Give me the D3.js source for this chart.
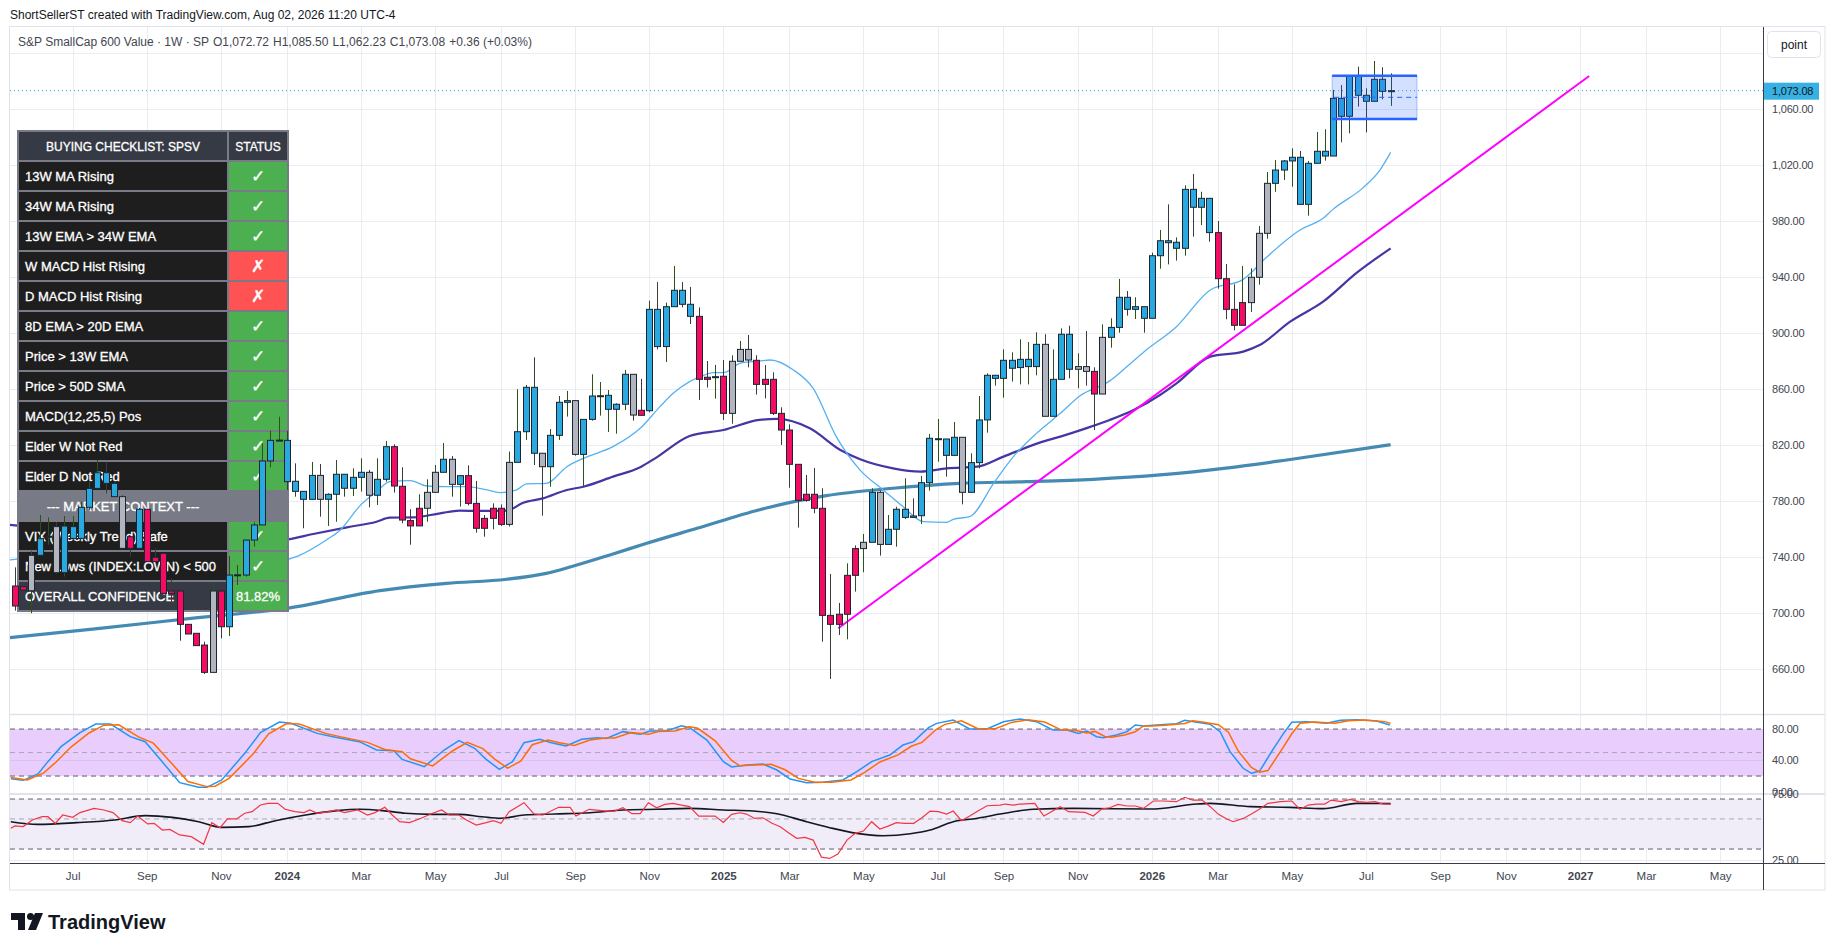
<!DOCTYPE html>
<html>
<head>
<meta charset="utf-8">
<script src="https://cdn.jsdelivr.net/npm/d3@7"></script>
<style>
  body { margin: 0; background: #ffffff; }
  svg text { font-family: "Liberation Sans", Arial, sans-serif; }
</style>
</head>
<body>
<div class="chart"></div>
<script>
// ---- data ----
// weeks are counted from the bar of 2023-07-03 (week 0); candles start at week -7
var firstCandleWeek = -7;
// [open, high, low, close]
var ohlc = [
  [719.3,732.6,701.7,705.0],[718.8,722.0,714.0,716.4],[715.9,744.1,699.8,741.2],[741.2,770.0,741.2,753.1],
  [754.5,768.3,748.6,754.8],[761.7,765.0,728.0,728.8],[728.8,769.3,726.0,762.1],[753.3,769.3,753.3,761.7],
  [753.3,779.5,753.3,775.5],[775.5,793.8,773.6,789.0],[789.0,809.3,789.0,800.2],[800.2,808.1,785.5,792.6],
  [792.6,793.8,783.1,783.1],[783.1,784.0,745.5,746.2],[754.5,754.5,740.2,746.2],[746.2,775.0,745.5,774.1],
  [774.1,774.1,736.7,736.7],[739.8,746.2,736.7,736.7],[742.6,742.6,714.0,714.0],[715.7,724.8,703.3,714.0],
  [715.7,715.7,680.2,691.9],[691.9,691.9,685.0,685.0],[685.5,685.5,676.7,676.7],[677.1,679.5,656.4,657.6],
  [657.6,721.7,657.6,715.7],[715.7,715.7,681.9,690.2],[690.2,740.7,683.6,727.1],[727.1,734.3,720.0,727.3],
  [727.1,752.1,726.0,752.1],[752.1,764.8,747.4,762.9],[762.9,821.2,762.9,808.6],[808.6,830.2,804.0,823.3],
  [823.3,840.2,823.3,823.5],[823.3,830.2,787.9,793.8],[794.1,806.9,783.1,786.9],[786.9,786.9,760.5,781.2],
  [781.2,807.9,781.2,798.3],[798.3,806.4,768.8,781.2],[781.2,785.5,762.2,784.8],[784.8,809.3,765.2,799.1],
  [799.1,799.1,783.1,789.1],[789.1,803.3,783.6,796.9],[796.9,810.5,786.7,800.5],[800.5,802.2,775.5,784.1],
  [784.1,810.5,777.2,795.5],[795.5,822.9,793.8,818.8],[818.8,820.5,786.0,790.7],[790.5,804.1,764.1,766.4],
  [766.0,774.1,748.8,762.2],[762.2,784.8,762.2,774.8],[774.8,795.5,765.2,786.2],[786.2,805.7,786.2,800.5],
  [800.5,821.4,800.5,809.8],[809.8,812.1,783.1,791.9],[791.9,798.1,776.0,798.1],[798.1,805.5,776.9,778.3],
  [778.3,794.3,757.4,760.5],[767.6,770.0,754.5,760.5],[774.8,778.3,759.8,767.6],[774.8,777.6,762.2,763.3],
  [763.3,815.3,761.7,807.6],[807.6,859.8,807.6,829.5],[829.5,862.9,823.6,861.2],[861.2,882.6,805.7,814.1],
  [814.1,814.1,769.5,804.5],[804.5,831.4,790.2,826.9],[826.9,855.0,823.6,850.5],[850.5,858.6,840.3,851.7],
  [851.7,851.7,812.4,813.3],[813.3,838.3,790.7,838.3],[838.3,870.5,837.4,855.0],[855.0,865.0,841.0,855.2],
  [845.5,859.3,829.3,855.5],[845.5,849.8,828.1,849.1],[849.1,873.6,845.0,870.5],[870.5,870.5,837.4,841.4],
  [844.8,867.2,841.2,841.2],[844.5,923.1,843.3,916.9],[916.9,936.4,888.3,890.3],[890.3,921.7,879.3,918.8],
  [918.8,947.9,918.8,930.5],[930.5,936.4,918.3,920.5],[920.5,932.9,906.4,911.9],[911.9,918.3,852.2,866.9],
  [868.4,880.0,861.0,866.9],[868.6,877.2,853.1,868.8],[869.1,880.7,837.9,842.6],[842.6,884.1,835.2,879.8],
  [879.8,894.3,879.8,888.3],[888.3,898.6,875.5,880.7],[880.5,884.1,856.0,863.3],[866.9,877.1,853.3,863.3],
  [866.9,871.9,841.4,842.6],[842.6,846.9,820.0,830.7],[830.7,834.8,789.5,806.2],[806.2,806.2,761.0,780.5],
  [784.8,798.6,779.5,780.5],[784.8,803.6,771.2,774.8],[774.8,789.1,679.5,698.3],[698.3,727.9,652.9,691.9],
  [699.1,707.2,684.3,691.9],[699.1,735.5,681.2,726.9],[726.9,748.3,715.3,746.0],[746.0,756.4,729.1,750.5],
  [750.5,789.1,750.5,786.2],[786.2,787.4,741.0,749.0],[749.0,770.0,749.0,759.8],[759.8,775.9,747.4,774.1],
  [768.3,796.2,767.1,774.1],[769.3,781.9,768.1,768.3],[769.5,797.9,763.6,793.1],[793.1,827.9,787.4,824.8],
  [824.3,838.6,808.1,824.5],[824.3,824.3,797.4,812.6],[812.6,836.4,812.6,825.5],[825.5,825.5,777.6,786.2],
  [786.2,814.1,786.2,807.4],[807.4,855.0,803.3,837.9],[837.9,871.2,828.8,869.8],[867.6,869.8,862.4,869.8],
  [867.6,888.3,853.8,880.5],[874.8,886.2,865.3,880.5],[875.3,895.5,863.3,881.2],[876.0,893.6,863.3,881.2],
  [876.0,900.5,869.8,891.9],[891.9,899.1,840.5,840.5],[840.5,888.3,840.5,866.9],[866.9,903.3,866.9,899.1],
  [899.1,905.2,867.6,874.1],[874.1,885.5,860.5,876.0],[876.0,901.4,862.4,872.6],[872.6,875.5,830.7,856.4],
  [856.4,906.2,856.4,896.9],[896.9,910.5,889.5,904.0],[904.0,938.6,900.2,925.5],[925.5,930.0,912.4,916.9],
  [916.9,925.5,910.0,918.8],[918.8,918.8,900.2,910.5],[910.5,957.4,910.5,955.2],[955.2,973.6,945.9,965.9],
  [965.9,991.9,949.0,964.5],[960.5,968.3,951.7,964.8],[960.5,1005.5,955.2,1002.6],[1002.6,1013.6,968.8,989.8],
  [989.8,1000.9,977.1,996.2],[996.2,996.2,965.2,971.7],[971.7,980.0,931.7,938.8],[938.8,949.3,909.8,916.9],
  [916.9,934.8,901.9,905.5],[905.5,947.9,905.5,921.7],[921.7,946.2,915.0,939.8],[939.8,976.4,934.5,971.2],
  [971.2,1015.0,967.4,1006.9],[1006.9,1023.6,1000.9,1016.4],[1016.4,1023.6,1009.3,1022.9],[1022.9,1031.9,1004.5,1025.5],
  [1025.5,1030.0,991.9,991.9],[991.9,1022.9,983.8,1021.2],[1021.2,1043.6,1021.2,1029.8],[1026.4,1045.5,1023.1,1029.8],
  [1026.4,1073.6,1026.4,1067.6],[1067.6,1077.1,1036.2,1054.8],[1054.8,1083.6,1042.6,1083.6],[1083.6,1090.2,1061.7,1069.8],
  [1069.8,1074.8,1043.3,1065.5],[1065.5,1094.3,1065.2,1081.2],[1081.2,1089.8,1066.9,1072.6],[1072.72,1085.50,1062.23,1073.08]
];
// bar colour per candle (b = blue, r = red, g = grey), in runs
var barColors = [
  "rr g bb g b",                                                          // weeks -7..-1
  "bbbbbb g r b rrrrrrrr g r bbbbbbbb",                                   // 0..26
  "bbb g bbbbb g bb rrrr gg b g b rrrrr g bbb g bbb g bbbbbb g r bbbbbb rr b r ggg r", // 27..83
  "rrrrrrrrrrrr gbg bbbbbbbbb g bbbbbbbbb g bbb gg r g bbbbbbbbbbbbb rrrr ggg bbbbbbbbbbbbbbb" // 84..160
].join("").replace(/ /g, "").split("");

// moving averages, sampled as [week, value]
var ema13 = [[-7.6,738],[-2,742],[4,758],[10,755],[16,728],[21,724],[26.2,738.3],[27.6,741.4],[30.8,752.2],[32.5,759.3],
  [34.9,776.7],[36.9,786.7],[38.5,793.8],[41,794.5],[43,790.7],[45.4,790.2],[47.8,790.2],[50.3,787.9],[52.1,786.0],
  [53.9,787.9],[55.1,792.2],[57.5,792.6],[60,804.5],[62,810.5],[65.6,818.8],[68.9,831.9],[71.3,847.4],[72.9,856.9],
  [74.9,865.3],[76.2,868.8],[77.8,871.7],[79,871.7],[81,878.3],[83.4,880],[84.7,880.7],[87.5,873.6],[89.9,860.5],
  [92.7,826.0],[95.6,802.1],[98.4,787.9],[100.8,776.0],[103.3,765.3],[106.1,764.8],[106.9,766.9],[108.9,768.8],
  [111.8,792.6],[114.2,811.7],[117.0,828.3],[119.9,842.6],[122.3,855.2],[125.9,865.8],[128,876],[130,886.3],
  [134,904.5],[138.1,930.7],[142.1,938.3],[145,954.5],[149,973.6],[151.8,981.9],[153,988.3],[156.7,1004.0],
  [158.7,1016.4],[160,1029.0]];
var sma34 = [[-7.6,763],[0,760],[8,760],[16,752],[22,750],[26.2,752.6],[29.2,756.4],[33.3,761.2],[36.9,765.2],
  [38.5,768.1],[41.4,768.3],[44.6,771.2],[47,773.1],[49.4,772.9],[52.7,773.1],[54.7,778.8],[57.1,781.9],[60,787.9],
  [62,790.2],[65.6,797.4],[68.9,804.1],[70.9,811.2],[74.9,826.4],[79,830.7],[83.4,838],[85.5,838.6],[89.5,831.9],
  [93.2,816.4],[95.6,809.8],[99.6,803.3],[102.9,801.0],[106.1,803.3],[109.8,804.5],[113,811.7],[117.4,821.7],
  [119.9,826.0],[123,831.9],[125.9,837.9],[128.8,845.0],[132,855.7],[134,864.0],[138.1,883.1],[142.1,886.7],
  [144.1,891.4],[147.8,908.1],[151.8,922.4],[155.9,943.1],[160,960.5]];
var sma40 = [[-7.6,682.4],[3.3,689.0],[15.5,696.9],[26.2,703.5],[37.3,716.0],[45.4,721.2],[52.7,724.1],[57.5,728.3],
  [60.8,733.6],[65.6,742.2],[69.7,749.8],[75.8,760.5],[83.4,773.8],[91.5,783.8],[99.6,789.1],[107.7,792.6],
  [115.8,793.8],[123.9,795.5],[132,798.6],[140,803.5],[147.4,809.3],[160,820.2]];

// drawings
var trendLine = [[92.95, 689.1], [184.1, 1083.6]];
var rangeBox = { w0: 152.9, w1: 163.2, top: 1083.8, bottom: 1052.9 };
var lastClose = 1073.08;
var priceTicks = [660, 700, 740, 780, 820, 860, 900, 940, 980, 1020, 1060, 1100];

// stochastic %K / %D
var stochK = [[-7.5,16.6],[-6,14.5],[-4.2,22.6],[-3,38.4],[-1.4,57.5],[0.9,75.4],[2.8,86.4],[4.6,86.4],[7,70.3],
  [8.8,63.9],[10.7,40.5],[13,11.5],[15.3,5.6],[16.3,5.6],[18.1,15],[20.9,49],[22.8,75.4],[25.1,89],[26.5,87.3],
  [29.7,74.5],[31.6,70.3],[34.8,63.9],[36.9,53.2],[39,52.4],[40,41.3],[42.7,32],[45.1,53.2],[46.9,65.2],[48.8,55.4],
  [50.2,41.3],[51.8,28.6],[53.4,38.4],[54.8,62.6],[56.7,66.9],[58.1,62.6],[59.9,58.3],[61.8,66.9],[63.7,69],
  [64.8,68.1],[66.8,76.7],[68.9,73.3],[70.1,77.5],[72.1,77.5],[73.9,84.3],[74.9,81.8],[77,66],[79,38.4],[80,31.6],
  [81.8,34.1],[83.8,35.4],[85.5,27.7],[87.1,16.2],[89.1,11.5],[91.1,12],[93.5,15],[95.2,25.6],[97,38.4],[99.2,46.9],
  [100.8,59.6],[102.1,63.9],[103.9,81.8],[104.9,87.3],[106.9,91.5],[108.9,80.1],[111,80.1],[113,89.4],[115,92.8],
  [117,89.4],[119,78.8],[120.7,78.8],[122.1,74.5],[123.1,77.5],[124.3,70.3],[125.1,69],[126.7,72.4],[128,76.7],
  [129,85.2],[130,83.9],[131.6,85.2],[134,86.9],[135,91.1],[136.5,88.6],[138.1,86],[139.3,76.7],[140.5,51.1],
  [142.1,29.9],[143.1,23.5],[144.1,26.4],[145.8,55.4],[147,74.5],[148,88.6],[149.8,89.4],[152.2,87.3],[153.9,91.1],
  [155.9,92],[158.3,90.3],[159.9,85.2]];
var stochD = [[-7.5,18],[-5.5,15],[-3.5,24],[-2,38],[-0.2,57],[2,75],[3.8,85],[5.6,85.5],[8,70],[9.8,62],[11.7,40],
  [14,13],[16.3,6.5],[17.3,7],[19,17],[21.9,48],[23.8,74],[26,87],[27.5,86.5],[30.7,74.5],[32.6,70],[35.8,63],
  [37.9,54],[40,51],[41,42],[43.7,33],[46.1,52],[47.9,63],[49.8,55],[51.2,42],[52.8,30],[54.4,39],[55.8,60],
  [57.7,66],[59.1,62.5],[60.9,59],[62.8,66],[64.7,68.5],[65.8,68.5],[67.8,75.5],[69.9,73.5],[71.1,77],[73.1,77.5],
  [74.9,83],[75.9,81],[78,65],[80,40],[81,33],[82.8,34],[84.8,35],[86.5,28],[88.1,17],[90.1,12],[92.1,12],
  [94.5,15],[96.2,25],[98,38],[100.2,47],[101.8,58],[103.1,63],[104.9,80],[105.9,86],[107.9,90.5],[109.9,80.5],
  [112,80.5],[114,88.5],[116,92],[118,89],[120,79],[121.7,78.5],[123.1,75],[124.1,77],[125.3,70.5],[126.1,69.5],
  [127.7,72.5],[129,76.5],[130,84],[131,84],[132.6,85],[135,87],[136,90.5],[137.5,88.5],[139.1,85.5],[140.3,76],
  [141.5,52],[143.1,31],[144.1,25],[145.1,27],[146.8,54],[148,74],[149,87.5],[150.8,89],[153.2,87.5],[154.9,90.5],
  [156.9,91.5],[159.3,89.5],[160,87.3]];
var stochLevels = [80, 50, 20];

// lower oscillator (red) and its signal (black)
var oscRed = [[-7.5,49],[-7,50.8],[-6,50.3],[-4.9,55.3],[-3.7,57.8],[-3,57.8],[-2.1,52.8],[-1.2,59.1],[0,57.3],
  [0.9,60.9],[2.6,64.1],[3.8,62.9],[4.9,60.9],[6,54.8],[7,53.3],[7.9,58.3],[9.1,52.3],[9.9,52.8],[10.9,47.7],
  [11.8,48.2],[13,44],[14.4,42.7],[15.9,36.9],[16.9,53.3],[17.9,49.5],[18.8,56.1],[19.9,56.1],[20.9,60.4],
  [21.8,61.6],[22.8,66.7],[23.7,67.9],[24.9,67.9],[25.8,63.4],[27,61.6],[28.1,60.9],[28.8,62.9],[29.7,60.4],
  [31.1,61.6],[32,62.9],[33,60.9],[34.6,62.9],[35.8,59.1],[36.7,60.9],[37.9,64.9],[38.8,59.1],[39.7,54],
  [40.9,53.3],[42.3,56.6],[43.7,60.4],[44.8,62.9],[45.7,59.1],[46.9,59.1],[47.8,55.3],[49,51.5],[50.2,53.3],
  [51.1,54.8],[52,52.8],[53,61.6],[54.8,68.4],[56,59.9],[57.1,59.1],[59,64.9],[60.4,64.9],[61.1,58.3],[62.7,63.4],
  [64.8,62.1],[65.8,62.1],[66.8,64.6],[67.9,60.1],[68.9,60.1],[69.9,68.4],[70.9,64.6],[71.9,67.1],[72.9,67.9],
  [73.9,66.6],[74.9,65.4],[76,58.3],[77,58.3],[78,58.3],[79,53.5],[80,59.6],[81,60.8],[81.8,59.8],[82.8,56.5],
  [83.8,57],[84.9,52.8],[85.9,50.2],[86.9,45.7],[87.9,41.4],[88.9,42.1],[89.9,40.1],[90.9,27.2],[91.9,26.2],
  [92.9,29.5],[94,40.1],[95,45.2],[96,46.9],[97,54],[98,48.5],[99,50.7],[100,53.3],[101,52.8],[102.1,52.8],
  [103.1,57],[104.1,62.1],[105.1,61.6],[106.1,59.8],[106.9,62.1],[107.9,54.8],[108.9,58.3],[109.9,62.1],[111,66.1],
  [112.6,66.6],[113.2,67.4],[114.2,66.6],[115,67.4],[116.8,67.9],[117.9,58.3],[119.9,65.4],[120.9,61.6],
  [122.9,61.1],[123.9,58.3],[124.9,63.6],[125.9,64.6],[126.9,67.1],[128,65.9],[129,65.9],[130,64.1],[131.2,69.7],
  [132.4,69.7],[134,69.2],[135,72.5],[136,70.4],[137.1,70.4],[138.1,65.4],[139.1,59.6],[140.1,56],[140.9,54],
  [142.1,56.5],[143.1,59.8],[144.1,63.6],[145.1,67.9],[146.6,69.2],[148,69.7],[149,63.4],[150,66.6],[151,67.4],
  [152,67.4],[152.8,70.4],[154,69.2],[155.1,70.9],[156.1,69.2],[157.1,68.7],[158.1,69.2],[159.1,67.4],[160,67.4]];
var oscBlack = [[-7.5,54],[-4.2,52],[0.5,53.3],[5.1,55.3],[8.8,58.6],[12.1,57.3],[15.3,54],[18.1,49.7],[21.4,50.3],
  [24.6,54.8],[28.3,59.1],[32.1,62.4],[34.8,63.4],[37.6,62.4],[40.4,60.4],[43.7,59.6],[46.9,59.6],[49.7,57.8],
  [52,56.6],[54.8,59.1],[58.5,59.9],[62.8,60.8],[66.8,62.9],[70.9,63.4],[74.9,64.1],[79,62.9],[82.6,62.1],
  [85.5,60.1],[89.1,54],[91.9,49.5],[95.2,45.2],[98.4,43.4],[101.7,44.9],[104.1,47.7],[106.9,54],[109.7,56.5],
  [112.6,59.8],[116.6,63.4],[121.5,64.1],[130.8,63.6],[136.5,67.4],[138.1,67.9],[143,65.4],[147.8,64.9],
  [151.8,63.9],[155.9,67.9],[160,67.7]];
var oscLevels = [71.2, 56.1, 33.3];

// checklist table
var checkItems = ["13W MA Rising", "34W MA Rising", "13W EMA > 34W EMA", "W MACD Hist Rising", "D MACD Hist Rising",
  "8D EMA > 20D EMA", "Price > 13W EMA", "Price > 50D SMA", "MACD(12,25,5) Pos", "Elder W Not Red", "Elder D Not Red"];
var checkPass = [true, true, true, false, false, true, true, true, true, true, true];
var contextItems = ["VIX (Weekly Trend) Safe", "New Lows (INDEX:LOWN) < 500"];
var contextPass = [true, true];
var confidence = "81.82%";

// ---- layout ----
var svgWidth = 1835, svgHeight = 951;
var paneLeft = 10, paneRight = 1763, frameRight = 1825;
var mainTop = 27, mainBottom = 714;
var stochTop = 714, stochBottom = 793;
var oscTop = 795, oscBottom = 863;
var axisBottom = 890;
var gridColor = "#e9edf3";
var colors = { b: "#2aa8e0", r: "#f60b63", g: "#b2b5be" };

if (barColors.length !== ohlc.length) console.log("colour count", barColors.length, ohlc.length);

var svg = d3.select(".chart").append("svg")
  .attr("width", svgWidth)
  .attr("height", svgHeight);

var firstMonday = new Date(2023, 6, 3);
function weekDate(w) { return d3.timeMonday.offset(firstMonday, w); }

var x = d3.scaleLinear().domain([-7.6, 205.2]).range([paneLeft, paneRight]);
var yMain = d3.scaleLinear().domain([627.86, 1118.57]).range([mainBottom, mainTop]);
var yStoch = d3.scaleLinear().domain([0, 100]).range([791.7, 713.4]);
var yOsc = d3.scaleLinear().domain([25, 75]).range([860, 794]);

// month ticks: first weekly bar of every other month
var tickWeeks = d3.range(-7, 206).filter(function(w) {
  var d = weekDate(w);
  return d.getDate() <= 7 && d.getMonth() % 2 === 0;
});

// clip paths
var defs = svg.append("defs");
function addClip(id, y0, y1) {
  defs.append("clipPath").attr("id", id).append("rect")
    .attr("x", paneLeft).attr("y", y0).attr("width", paneRight - paneLeft).attr("height", y1 - y0);
}
addClip("clipMain", mainTop, mainBottom);
addClip("clipStoch", stochTop + 1, stochBottom);
addClip("clipOsc", oscTop, oscBottom);

// top caption
svg.append("text")
  .attr("x", 10).attr("y", 19)
  .attr("font-size", "12px").attr("fill", "#131722")
  .text("ShortSellerST created with TradingView.com, Aug 02, 2026 11:20 UTC-4");

// frame
svg.append("rect")
  .attr("x", 9.5).attr("y", mainTop - 0.5)
  .attr("width", frameRight - 9.5).attr("height", axisBottom - mainTop + 0.5)
  .attr("fill", "none").attr("stroke", "#e0e3eb");

// vertical grid
svg.append("g").selectAll("line")
  .data(tickWeeks).enter().append("line")
  .attr("x1", function(d) { return Math.round(x(d)) + 0.5; })
  .attr("x2", function(d) { return Math.round(x(d)) + 0.5; })
  .attr("y1", mainTop).attr("y2", oscBottom)
  .attr("stroke", gridColor);

// horizontal grid, main pane
svg.append("g").selectAll("line")
  .data(priceTicks).enter().append("line")
  .attr("x1", paneLeft).attr("x2", paneRight)
  .attr("y1", function(d) { return Math.round(yMain(d)) + 0.5; })
  .attr("y2", function(d) { return Math.round(yMain(d)) + 0.5; })
  .attr("stroke", gridColor);

// pane separators
svg.append("line").attr("x1", paneLeft).attr("x2", frameRight).attr("y1", mainBottom + 0.5).attr("y2", mainBottom + 0.5)
  .attr("stroke", "#e0e3eb").attr("stroke-width", 1.5);
svg.append("rect").attr("x", paneLeft).attr("y", stochBottom).attr("width", frameRight - paneLeft).attr("height", 2)
  .attr("fill", "#e0e3eb");

// ---- main pane ----
var mainGroup = svg.append("g").attr("clip-path", "url(#clipMain)");

var maLine = d3.line()
  .x(function(d) { return x(d[0]); })
  .y(function(d) { return yMain(d[1]); })
  .curve(d3.curveMonotoneX);

mainGroup.append("path").datum(sma40).attr("d", maLine)
  .attr("fill", "none").attr("stroke", "#3a84ae").attr("stroke-width", 3.2).attr("opacity", 0.95);
mainGroup.append("path").datum(sma34).attr("d", maLine)
  .attr("fill", "none").attr("stroke", "#4536a3").attr("stroke-width", 2.2);
mainGroup.append("path").datum(ema13).attr("d", maLine)
  .attr("fill", "none").attr("stroke", "#55b1f2").attr("stroke-width", 1.3);

// last price line
mainGroup.append("line")
  .attr("x1", paneLeft).attr("x2", paneRight)
  .attr("y1", yMain(lastClose)).attr("y2", yMain(lastClose))
  .attr("stroke", "#2aa3d9").attr("stroke-dasharray", "1,3");

// trend line
mainGroup.append("line")
  .attr("x1", x(trendLine[0][0])).attr("y1", yMain(trendLine[0][1]))
  .attr("x2", x(trendLine[1][0])).attr("y2", yMain(trendLine[1][1]))
  .attr("stroke", "#ff00ff").attr("stroke-width", 2);

// header legend
var legend = svg.append("text")
  .attr("x", 18).attr("y", 46)
  .attr("font-size", "12px").attr("fill", "#434651");
legend.append("tspan").text("S&P SmallCap 600 Value \u00b7 1W \u00b7 SP");
var ohlcLast = ohlc[ohlc.length - 1];
var fmt = d3.format(",.2f");
[["O", ohlcLast[0]], ["H", ohlcLast[1]], ["L", ohlcLast[2]], ["C", ohlcLast[3]]].forEach(function(p) {
  legend.append("tspan").attr("dx", 4).text(p[0] + fmt(p[1]));
});
legend.append("tspan").attr("dx", 4).text("+0.36 (+0.03%)");

// checklist table
var tableX = 18, tableY = 131, rowH = 30, splitX = 228, tableW = 270;
var rows = [{ label: "BUYING CHECKLIST: SPSV", status: "STATUS", kind: "head" }];
checkItems.forEach(function(d, i) { rows.push({ label: d, pass: checkPass[i], kind: "item" }); });
rows.push({ label: "--- MARKET CONTEXT ---", kind: "context" });
contextItems.forEach(function(d, i) { rows.push({ label: d, pass: contextPass[i], kind: "item" }); });
rows.push({ label: "OVERALL CONFIDENCE", status: confidence, kind: "total" });

var table = svg.append("g");
table.append("rect")
  .attr("x", tableX - 1).attr("y", tableY - 1)
  .attr("width", tableW + 2).attr("height", rows.length * rowH + 2)
  .attr("fill", "#787b86");

var rowGroups = table.selectAll("g.row").data(rows).enter().append("g")
  .attr("transform", function(d, i) { return "translate(0," + (tableY + i * rowH) + ")"; });

rowGroups.each(function(d) {
  var g = d3.select(this);
  if (d.kind === "context") {
    g.append("rect").attr("x", tableX + 1).attr("y", 1).attr("width", tableW - 2).attr("height", rowH - 2)
      .attr("fill", "#787b86");
    g.append("text").attr("x", (tableX + splitX) / 2).attr("y", rowH / 2 + 4.5)
      .attr("text-anchor", "middle").attr("font-size", "13px").attr("fill", "#ffffff")
      .attr("stroke", "#ffffff").attr("stroke-width", 0.3).text(d.label);
    return;
  }
  var leftFill = (d.kind === "head" || d.kind === "total") ? "#363a45" : "#1e1e1e";
  var rightFill = d.kind === "head" ? "#363a45" : (d.kind === "total" || d.pass ? "#4caf50" : "#ff5252");
  g.append("rect").attr("x", tableX + 1).attr("y", 1).attr("width", splitX - tableX - 2).attr("height", rowH - 2)
    .attr("fill", leftFill);
  g.append("rect").attr("x", splitX + 1).attr("y", 1).attr("width", tableX + tableW - splitX - 2).attr("height", rowH - 2)
    .attr("fill", rightFill);
  g.append("text")
    .attr("x", d.kind === "head" ? (tableX + splitX) / 2 : tableX + 7)
    .attr("y", rowH / 2 + 4.5)
    .attr("text-anchor", d.kind === "head" ? "middle" : "start")
    .attr("font-size", d.kind === "head" ? "12px" : "13px")
    .attr("fill", "#ffffff").attr("stroke", "#ffffff").attr("stroke-width", 0.3)
    .text(d.label);
  var statusText = d.kind === "item" ? (d.pass ? "\u2713" : "\u2717") : d.status;
  g.append("text")
    .attr("x", (splitX + tableX + tableW) / 2).attr("y", rowH / 2 + (d.kind === "item" ? 6 : 4.5))
    .attr("text-anchor", "middle")
    .attr("font-size", d.kind === "item" ? "17px" : (d.kind === "head" ? "12px" : "13px"))
    .attr("font-weight", d.kind === "item" ? "bold" : "normal")
    .style("font-family", d.kind === "item" ? "'DejaVu Sans', sans-serif" : null)
    .attr("fill", "#ffffff").attr("stroke", "#ffffff").attr("stroke-width", 0.3)
    .text(statusText);
});

// candles
var candles = ohlc.map(function(d, i) {
  return { w: firstCandleWeek + i, o: d[0], h: d[1], l: d[2], c: d[3], col: barColors[i] };
});
var candleGroup = svg.append("g").attr("clip-path", "url(#clipMain)");
candleGroup.selectAll("line.wick").data(candles).enter().append("line")
  .attr("x1", function(d) { return Math.round(x(d.w)) + 0.5; })
  .attr("x2", function(d) { return Math.round(x(d.w)) + 0.5; })
  .attr("y1", function(d) { return yMain(d.h); })
  .attr("y2", function(d) { return yMain(d.l); })
  .attr("stroke", function(d) { return d.c >= d.o ? "#2a5219" : "#3b3b3b"; })
  .attr("stroke-width", 1);
candleGroup.selectAll("rect.body").data(candles).enter().append("rect")
  .attr("x", function(d) { return Math.round(x(d.w)) - 2.5; })
  .attr("width", 6)
  .attr("y", function(d) { return yMain(Math.max(d.o, d.c)); })
  .attr("height", function(d) { return Math.max(1, Math.abs(yMain(d.o) - yMain(d.c))); })
  .attr("fill", function(d) { return colors[d.col]; })
  .attr("stroke", "#1b2631").attr("stroke-width", 1);

// range rectangle
var box = svg.append("g").attr("clip-path", "url(#clipMain)");
box.append("rect")
  .attr("x", x(rangeBox.w0)).attr("y", yMain(rangeBox.top))
  .attr("width", x(rangeBox.w1) - x(rangeBox.w0)).attr("height", yMain(rangeBox.bottom) - yMain(rangeBox.top))
  .attr("fill", "rgba(41,98,255,0.2)").attr("stroke", "rgba(41,98,255,0.35)");
[rangeBox.top, rangeBox.bottom].forEach(function(v) {
  box.append("line").attr("x1", x(rangeBox.w0)).attr("x2", x(rangeBox.w1))
    .attr("y1", yMain(v)).attr("y2", yMain(v))
    .attr("stroke", "#2962ff").attr("stroke-width", 2.5);
});
box.append("line")
  .attr("x1", x(rangeBox.w0) + 2).attr("x2", x(rangeBox.w1))
  .attr("y1", yMain((rangeBox.top + rangeBox.bottom) / 2)).attr("y2", yMain((rangeBox.top + rangeBox.bottom) / 2))
  .attr("stroke", "#2962ff").attr("stroke-dasharray", "5,4");

// ---- stochastic pane ----
var stochGroup = svg.append("g").attr("clip-path", "url(#clipStoch)");
stochGroup.append("rect")
  .attr("x", paneLeft).attr("width", paneRight - paneLeft)
  .attr("y", yStoch(80)).attr("height", yStoch(20) - yStoch(80))
  .attr("fill", "#e9cdfd");
stochGroup.append("line").attr("x1", paneLeft).attr("x2", paneRight)
  .attr("y1", Math.round(yStoch(40)) + 0.5).attr("y2", Math.round(yStoch(40)) + 0.5)
  .attr("stroke", "#d6c3f0");
stochGroup.selectAll("line.level").data(stochLevels).enter().append("line")
  .attr("x1", paneLeft).attr("x2", paneRight)
  .attr("y1", function(d) { return yStoch(d); }).attr("y2", function(d) { return yStoch(d); })
  .attr("stroke", function(d) { return d === 50 ? "#a7a9b3" : "#5d606b"; })
  .attr("stroke-dasharray", "5,4");

var stochLine = d3.line()
  .x(function(d) { return x(d[0]); })
  .y(function(d) { return yStoch(d[1]); });
stochGroup.append("path").datum(stochK).attr("d", stochLine)
  .attr("fill", "none").attr("stroke", "#2196f3").attr("stroke-width", 1.5);
stochGroup.append("path").datum(stochD).attr("d", stochLine)
  .attr("fill", "none").attr("stroke", "#ff6d00").attr("stroke-width", 1.5);

// ---- oscillator pane ----
var oscGroup = svg.append("g").attr("clip-path", "url(#clipOsc)");
oscGroup.append("rect")
  .attr("x", paneLeft).attr("width", paneRight - paneLeft)
  .attr("y", yOsc(oscLevels[0])).attr("height", yOsc(oscLevels[2]) - yOsc(oscLevels[0]))
  .attr("fill", "#f0ecf8");
oscGroup.append("line").attr("x1", paneLeft).attr("x2", paneRight)
  .attr("y1", Math.round(yOsc(25)) + 0.5).attr("y2", Math.round(yOsc(25)) + 0.5).attr("stroke", gridColor);
oscGroup.selectAll("line.level").data(oscLevels).enter().append("line")
  .attr("x1", paneLeft).attr("x2", paneRight)
  .attr("y1", function(d) { return yOsc(d); }).attr("y2", function(d) { return yOsc(d); })
  .attr("stroke", function(d, i) { return i === 1 ? "#a7a9b3" : "#5d606b"; })
  .attr("stroke-dasharray", "5,4");

var oscLine = d3.line()
  .x(function(d) { return x(d[0]); })
  .y(function(d) { return yOsc(d[1]); });
oscGroup.append("path").datum(oscBlack).attr("d", oscLine.curve(d3.curveMonotoneX))
  .attr("fill", "none").attr("stroke", "#131722").attr("stroke-width", 1.6);
oscGroup.append("path").datum(oscRed).attr("d", oscLine.curve(d3.curveLinear))
  .attr("fill", "none").attr("stroke", "#f23645").attr("stroke-width", 1.2);

// ---- axes ----
svg.append("line").attr("x1", paneLeft).attr("x2", frameRight)
  .attr("y1", oscBottom + 0.5).attr("y2", oscBottom + 0.5).attr("stroke", "#3a3e48");
svg.append("line").attr("x1", paneRight + 0.5).attr("x2", paneRight + 0.5)
  .attr("y1", mainTop).attr("y2", axisBottom).attr("stroke", "#3a3e48");

var xAxis = svg.append("g")
  .attr("transform", "translate(0," + oscBottom + ")")
  .call(d3.axisBottom(x).tickValues(tickWeeks).tickSize(0).tickPadding(9)
    .tickFormat(function(w) {
      var d = weekDate(w);
      return d.getMonth() === 0 ? d3.timeFormat("%Y")(d) : d3.timeFormat("%b")(d);
    }));
xAxis.select(".domain").remove();
xAxis.selectAll("text")
  .attr("font-size", "11.5px").attr("fill", "#434651")
  .style("font-family", "'Liberation Sans', Arial, sans-serif")
  .attr("font-weight", function(w) { return weekDate(w).getMonth() === 0 ? "bold" : "normal"; });

function styleRightAxis(g) {
  g.select(".domain").remove();
  g.selectAll("text")
    .attr("font-size", "11px").attr("fill", "#434651").attr("letter-spacing", "-0.2px")
    .style("font-family", "'Liberation Sans', Arial, sans-serif");
}
// the 1,100 label sits under the scale button, so it is left out
svg.append("g").attr("transform", "translate(" + paneRight + ",0)")
  .call(d3.axisRight(yMain).tickValues(priceTicks.filter(function(d) { return d < 1100; }))
    .tickSize(0).tickPadding(9).tickFormat(fmt))
  .call(styleRightAxis);
svg.append("g").attr("transform", "translate(" + paneRight + ",0)")
  .call(d3.axisRight(yStoch).tickValues([0, 40, 80]).tickSize(0).tickPadding(9).tickFormat(d3.format(".2f")))
  .call(styleRightAxis);
svg.append("g").attr("transform", "translate(" + paneRight + ",0)")
  .call(d3.axisRight(yOsc).tickValues([25, 75]).tickSize(0).tickPadding(9).tickFormat(d3.format(".2f")))
  .call(styleRightAxis);

// last price tag
svg.append("rect")
  .attr("x", paneRight + 1).attr("y", yMain(lastClose) - 8)
  .attr("width", 55).attr("height", 17)
  .attr("fill", "#37b0e3");
svg.append("text")
  .attr("x", paneRight + 9).attr("y", yMain(lastClose) + 4.5)
  .attr("font-size", "11px").attr("fill", "#131722").attr("letter-spacing", "-0.2px")
  .text(fmt(lastClose));

// scale mode button
svg.append("rect")
  .attr("x", 1767.5).attr("y", 31.5).attr("width", 53).attr("height", 26).attr("rx", 4)
  .attr("fill", "#ffffff").attr("stroke", "#e0e3eb");
svg.append("text")
  .attr("x", 1794).attr("y", 48.5).attr("text-anchor", "middle")
  .attr("font-size", "12px").attr("fill", "#131722").text("point");

// TradingView logo
var logo = svg.append("g").attr("fill", "#131722");
logo.append("path").attr("d", "M11,913 H25 V930 H18 V920 H11 Z");
logo.append("circle").attr("cx", 30.5).attr("cy", 916.5).attr("r", 3.5);
logo.append("path").attr("d", "M35,913 H43 L36,930 H28 Z");
svg.append("text")
  .attr("x", 48).attr("y", 929)
  .attr("font-size", "20px").attr("font-weight", "bold").attr("fill", "#131722")
  .text("TradingView");
</script>
</body>
</html>
